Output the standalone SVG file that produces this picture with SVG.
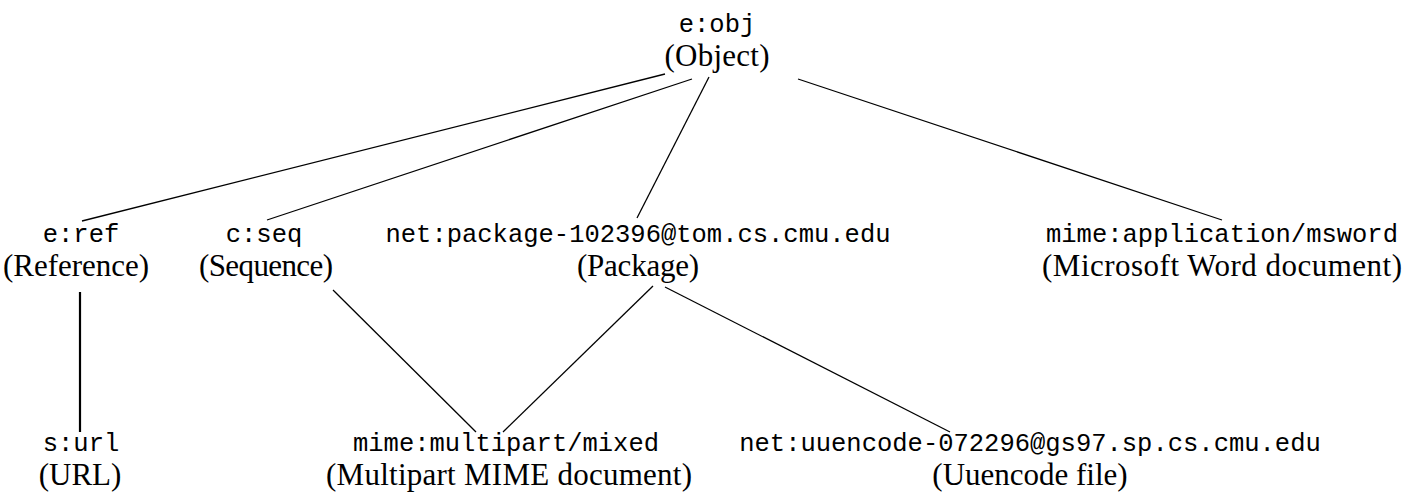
<svg xmlns="http://www.w3.org/2000/svg" width="1416" height="497" viewBox="0 0 1416 497">
<style>
.m{font-family:"Liberation Mono","Courier New",monospace;font-size:25.5px;fill:#000;text-anchor:middle}
.s{font-family:"Liberation Serif","Times New Roman",serif;font-size:31px;fill:#000;text-anchor:middle}
.e{stroke:#000;stroke-width:1.3;fill:none}
</style>
<rect width="1416" height="497" fill="#fff"/>
<g id="connectors">
<line class="e" x1="665" y1="74" x2="82" y2="221"/>
<line class="e" x1="692" y1="79" x2="267" y2="220"/>
<line class="e" x1="709" y1="77" x2="637" y2="218"/>
<line class="e" x1="798" y1="79" x2="1222" y2="220"/>
<line class="e" x1="80" y1="292" x2="80" y2="432" style="stroke-width:2.2"/>
<line class="e" x1="333" y1="290" x2="476" y2="432"/>
<line class="e" x1="653" y1="286" x2="503" y2="432"/>
<line class="e" x1="665" y1="287" x2="950" y2="432"/>
</g>
<g id="obj"><text class="m" x="717" y="32">e:obj</text><text class="s" x="717" y="66" textLength="105">(Object)</text></g>
<g id="ref"><text class="m" x="81" y="242">e:ref</text><text class="s" x="76" y="276" textLength="146">(Reference)</text></g>
<g id="seq"><text class="m" x="264" y="242">c:seq</text><text class="s" x="266" y="276" textLength="134">(Sequence)</text></g>
<g id="package"><text class="m" x="638" y="242">net:package-102396@tom.cs.cmu.edu</text><text class="s" x="638" y="276" textLength="122">(Package)</text></g>
<g id="msword"><text class="m" x="1222" y="242">mime:application/msword</text><text class="s" x="1222" y="276" textLength="360">(Microsoft Word document)</text></g>
<g id="url"><text class="m" x="81" y="451">s:url</text><text class="s" x="80" y="485">(URL)</text></g>
<g id="multipart"><text class="m" x="506" y="451">mime:multipart/mixed</text><text class="s" x="509" y="485" textLength="366">(Multipart MIME document)</text></g>
<g id="uuencode"><text class="m" x="1030" y="451">net:uuencode-072296@gs97.sp.cs.cmu.edu</text><text class="s" x="1030" y="485">(Uuencode file)</text></g>
</svg>
